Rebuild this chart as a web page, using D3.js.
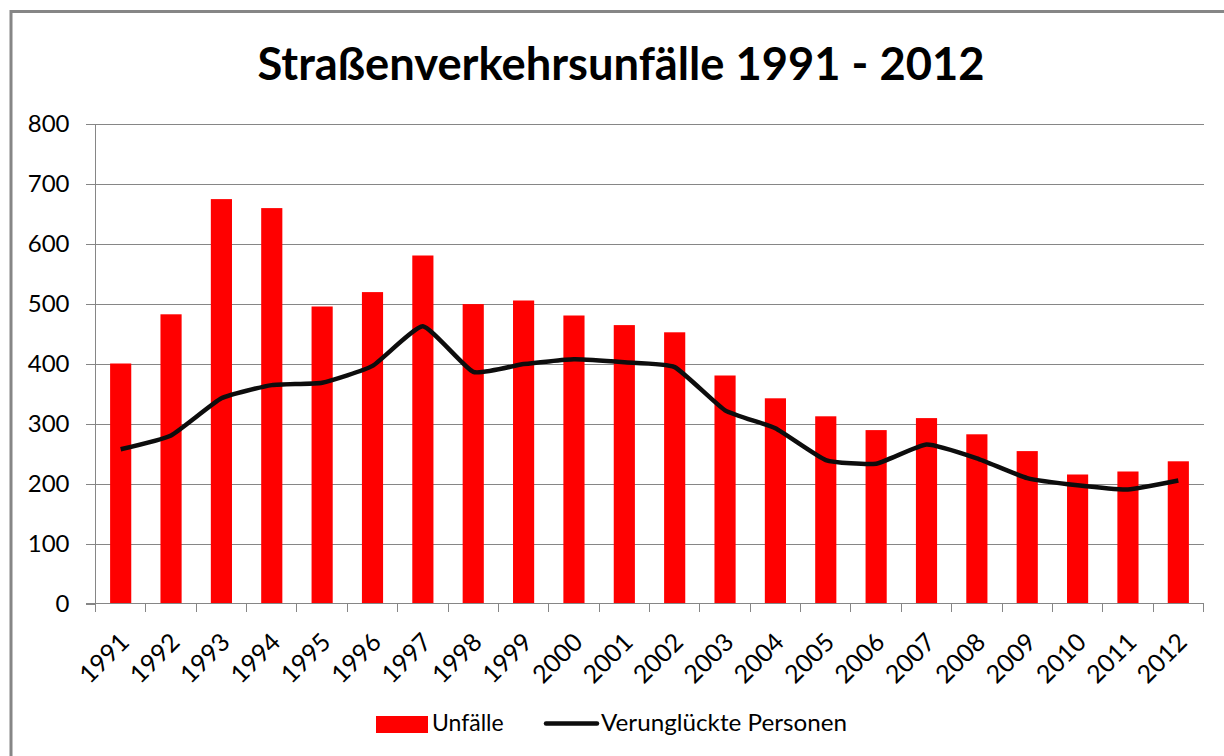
<!DOCTYPE html>
<html>
    <head>
        <title>Straßenverkehrsunfälle</title>
        <meta charset="utf-8">
        <style>
            html, body {
                margin: 0px;
                padding: 0px;
                background-color: #fff;
                font-family: Lato, "Noto Sans", sans-serif;
            }

            svg text {
                fill: #000;
            }

            .grid line {
                stroke: #868686;
                stroke-width: 1px;
                shape-rendering: crispEdges;
            }

            .axis path, .axis line {
                stroke: #868686;
                shape-rendering: crispEdges;
            }

            .axis text {
                font-family: Lato, sans-serif;
                font-size: 24px;
                fill: #000;
            }
        </style>
        <script src="https://cdn.jsdelivr.net/npm/d3@7"></script>
    </head>
    <body>
        <div id="main"></div>

        <script>
            // data
            var years = ["1991", "1992", "1993", "1994", "1995", "1996", "1997", "1998", "1999", "2000", "2001",
                         "2002", "2003", "2004", "2005", "2006", "2007", "2008", "2009", "2010", "2011", "2012"];
            var unfaelle = [400, 482, 674, 659, 495, 519, 580, 499, 505, 480, 464,
                            452, 380, 342, 312, 289, 309, 282, 254, 215, 220, 237];
            var verunglueckte = [257, 280, 342, 364, 368, 396, 462, 386, 399, 407, 402,
                                 394, 322, 292, 239, 233, 265, 242, 209, 197, 190, 205];
            var yTicks = [0, 100, 200, 300, 400, 500, 600, 700, 800];

            var width = 1224;
            var height = 756;
            var plotLeft = 95.5, plotRight = 1203.5, plotTop = 123.5, plotBottom = 603.5;

            function main() {
                var svg = d3.select("#main")
                            .append("svg")
                            .attr("width", width)
                            .attr("height", height);

                // outer frame (only left and top edge visible)
                svg.append("path")
                    .attr("d", "M11,756 L11,11.5 L1224,11.5")
                    .attr("fill", "none")
                    .attr("stroke", "#868686")
                    .attr("stroke-width", 3);

                svg.append("text")
                    .attr("x", 621)
                    .attr("y", 80)
                    .attr("text-anchor", "middle")
                    .attr("textLength", 727)
                    .attr("lengthAdjust", "spacingAndGlyphs")
                    .style("font-family", "Lato, sans-serif")
                    .style("font-weight", "bold")
                    .style("font-size", "45px")
                    .text("Straßenverkehrsunfälle 1991 - 2012");

                var x = d3.scaleBand()
                            .domain(years)
                            .range([plotLeft, plotRight])
                            .paddingInner(0.58)
                            .paddingOuter(0.29);

                var xs = d3.scaleBand()
                            .domain(years)
                            .range([plotLeft, plotRight]);

                var y = d3.scaleLinear()
                            .domain([0, 800])
                            .range([plotBottom, plotTop]);

                // gridlines
                svg.append("g")
                    .attr("class", "grid")
                    .selectAll("line")
                    .data(yTicks.slice(1))
                    .enter()
                    .append("line")
                    .attr("x1", plotLeft)
                    .attr("x2", plotRight)
                    .attr("y1", function(d) { return Math.round(y(d)) + 0.5; })
                    .attr("y2", function(d) { return Math.round(y(d)) + 0.5; });

                // bars
                svg.append("g")
                    .selectAll("rect")
                    .data(unfaelle)
                    .enter()
                    .append("rect")
                    .attr("x", function(d, i) { return x(years[i]); })
                    .attr("width", x.bandwidth())
                    .attr("y", function(d) { return y(d); })
                    .attr("height", function(d) { return y(0) - y(d); })
                    .attr("fill", "#ff0000");

                // y axis
                var yAxis = svg.append("g")
                    .attr("class", "axis")
                    .attr("transform", "translate(" + plotLeft + ",0)")
                    .call(d3.axisLeft(y).tickValues(yTicks).tickSize(10).tickPadding(16));
                yAxis.select(".domain").attr("d", "M0," + plotTop + "V" + plotBottom);

                // x axis
                var xAxis = svg.append("g")
                    .attr("class", "axis")
                    .attr("transform", "translate(0," + plotBottom + ")");
                xAxis.append("line")
                    .attr("x1", plotLeft - 10)
                    .attr("x2", plotRight)
                    .attr("y1", 0)
                    .attr("y2", 0);
                xAxis.selectAll(".tk")
                    .data(years.concat(["end"]))
                    .enter()
                    .append("line")
                    .attr("class", "tk")
                    .attr("x1", function(d, i) { return i < years.length ? xs(d) : plotRight; })
                    .attr("x2", function(d, i) { return i < years.length ? xs(d) : plotRight; })
                    .attr("y1", 0)
                    .attr("y2", 8);
                xAxis.selectAll("text")
                    .data(years)
                    .enter()
                    .append("text")
                    .attr("text-anchor", "end")
                    .attr("dy", "0.35em")
                    .attr("transform", function(d) {
                        return "translate(" + (xs(d) + xs.bandwidth() / 2 + 4) + ",34) rotate(-45)";
                    })
                    .style("font-size", "25px")
                    .text(function(d) { return d; });

                // line (mildly smoothed, like the spreadsheet original)
                var line = d3.line()
                    .x(function(d, i) { return xs(years[i]) + xs.bandwidth() / 2; })
                    .y(function(d) { return y(d); })
                    .curve(d3.curveCardinal.tension(0.55));

                svg.append("path")
                    .datum(verunglueckte)
                    .attr("d", line)
                    .attr("fill", "none")
                    .attr("stroke", "#0d0d0d")
                    .attr("stroke-width", 4.5)
                    .attr("stroke-linejoin", "round");

                // legend
                var legend = svg.append("g");
                legend.append("rect")
                    .attr("x", 376)
                    .attr("y", 716)
                    .attr("width", 52)
                    .attr("height", 17)
                    .attr("fill", "#ff0000");
                legend.append("text")
                    .attr("x", 432)
                    .attr("y", 731)
                    .style("font-size", "23px")
                    .text("Unfälle");
                legend.append("line")
                    .attr("x1", 546)
                    .attr("x2", 597)
                    .attr("y1", 723.5)
                    .attr("y2", 723.5)
                    .attr("stroke", "#0d0d0d")
                    .attr("stroke-width", 4.5)
                    .attr("stroke-linecap", "round");
                legend.append("text")
                    .attr("x", 601)
                    .attr("y", 731)
                    .attr("textLength", 246)
                    .attr("lengthAdjust", "spacingAndGlyphs")
                    .style("font-size", "23px")
                    .text("Verunglückte Personen");
            }

            main();
        </script>
    </body>
</html>
